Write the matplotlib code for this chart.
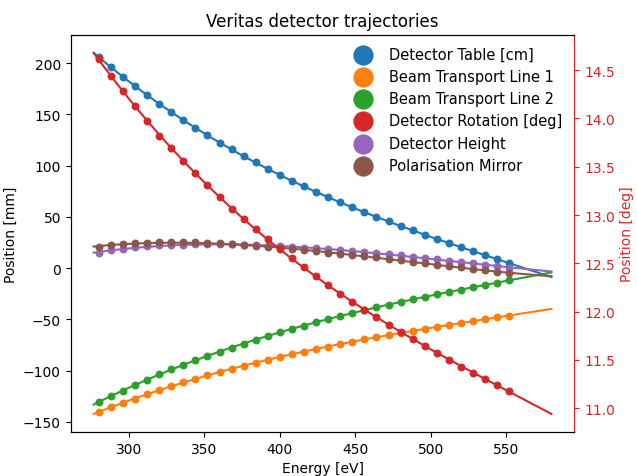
import numpy as np
import matplotlib
matplotlib.use("Agg")
import matplotlib.pyplot as plt

# Beam energies at which the trajectories were sampled [eV]
energy = np.arange(280, 553, 8)

detector_table = [206.5, 195.8, 186.3, 177.8, 168.8, 159.7, 151.9, 144.4, 136.9, 129.8,
                  122.6, 115.8, 109.0, 103.1, 96.9, 91.1, 85.2, 80.0, 74.5, 69.0,
                  64.2, 59.3, 54.4, 49.8, 45.6, 41.0, 36.8, 32.5, 28.3, 24.5,
                  20.3, 16.4, 12.5, 8.6, 5.3]
beam_line_1 = [-140.3, -135.7, -131.5, -127.3, -123.0, -119.0, -115.2, -111.5, -108.1, -104.5,
               -101.3, -98.1, -95.2, -92.2, -89.6, -87.0, -84.0, -81.5, -78.9, -76.6,
               -74.0, -71.8, -69.4, -67.5, -65.2, -63.3, -61.3, -59.4, -57.4, -55.5,
               -53.5, -51.6, -49.9, -48.0, -46.4]
beam_line_2 = [-130.8, -125.0, -119.5, -114.0, -108.8, -103.2, -98.7, -94.2, -89.9, -85.7,
               -81.5, -77.6, -73.7, -69.8, -66.2, -62.6, -59.4, -56.2, -52.8, -49.9,
               -46.7, -43.8, -40.9, -37.9, -35.7, -33.0, -30.4, -27.9, -25.5, -23.3,
               -21.1, -18.7, -16.5, -14.2, -11.9]
detector_rotation = [14.612, 14.440, 14.283, 14.129, 13.971, 13.821, 13.691, 13.558, 13.434, 13.308,
                     13.185, 13.068, 12.955, 12.852, 12.750, 12.647, 12.551, 12.459, 12.367, 12.274,
                     12.185, 12.100, 12.021, 11.943, 11.867, 11.788, 11.717, 11.645, 11.573, 11.501,
                     11.432, 11.368, 11.306, 11.237, 11.179]
detector_height = [14.7, 17.3, 18.9, 20.2, 21.2, 22.2, 22.5, 22.8, 23.2, 23.2,
                   23.2, 23.2, 22.8, 22.2, 21.9, 21.2, 20.6, 19.9, 19.3, 18.3,
                   17.6, 16.7, 15.7, 14.7, 13.7, 12.5, 11.1, 9.8, 8.6, 7.2,
                   5.9, 4.7, 3.3, 1.8, 0.4]
polarisation_mirror = [20.6, 22.2, 23.5, 24.2, 24.8, 25.1, 25.4, 25.4, 25.1, 24.8,
                       24.2, 23.2, 22.5, 21.5, 20.2, 19.3, 18.3, 17.3, 16.4, 15.0,
                       14.0, 12.8, 11.8, 10.5, 8.9, 7.6, 6.2, 4.7, 3.3, 2.0,
                       0.8, -0.9, -2.1, -3.8, -5.1]

labels = ["Detector Table [cm]", "Beam Transport Line 1", "Beam Transport Line 2",
          "Detector Rotation [deg]", "Detector Height", "Polarisation Mirror"]
colors = ["tab:blue", "tab:orange", "tab:green", "tab:red", "tab:purple", "tab:brown"]
series = [detector_table, beam_line_1, beam_line_2, detector_rotation,
          detector_height, polarisation_mirror]

# Energy range covered by the fitted trajectories
fit_range = (276.5, 580)

fig = plt.figure(figsize=(6.37, 4.77), dpi=100)
ax = fig.add_axes([0.111, 0.0922, 0.7906, 0.8328])
ax2 = ax.twinx()

fine = np.linspace(*fit_range, 200)
handles = []
for vals, lab, col in zip(series, labels, colors):
    target = ax2 if lab.startswith("Detector Rotation") else ax
    coeffs = np.polyfit(energy, vals, 3)
    target.plot(fine, np.polyval(coeffs, fine), color=col, lw=1.5)
    h = target.scatter(energy, vals, color=col, s=22, label=lab, zorder=3)
    handles.append(h)

ax.set_title("Veritas detector trajectories")
ax.set_xlabel("Energy [eV]")
ax.set_ylabel("Position [mm]")
ax.set_xticks([300, 350, 400, 450, 500, 550])
ax.set_yticks([-150, -100, -50, 0, 50, 100, 150, 200])

ax2.set_ylabel("Position [deg]", color="tab:red")
ax2.tick_params(axis="y", colors="tab:red")
ax2.spines["right"].set_color("tab:red")
ax2.set_yticks([11.0, 11.5, 12.0, 12.5, 13.0, 13.5, 14.0, 14.5])

ax2.legend(handles, labels, loc="upper right", frameon=False, markerscale=2.9,
           fontsize=10.5, borderaxespad=0.4)

fig.savefig("out.png", dpi=100)
